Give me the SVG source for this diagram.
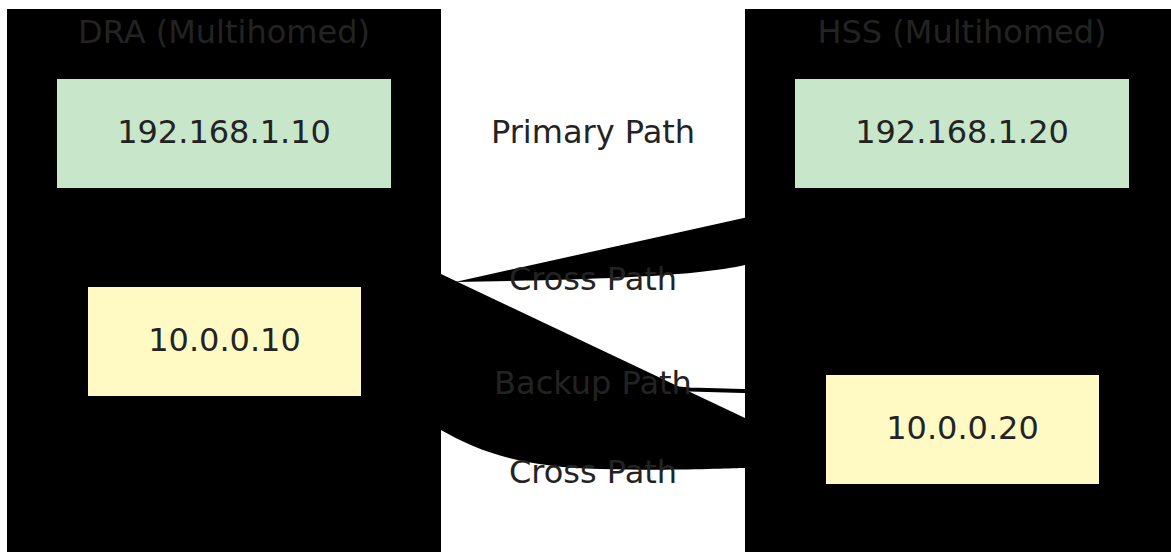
<svg xmlns="http://www.w3.org/2000/svg" width="1171" height="552" viewBox="0 0 1171 552">
<style>
.cluster{fill:#000;stroke:none}
.t{font-family:"DejaVu Sans","Liberation Sans",sans-serif;font-size:32px;fill:#232323;text-anchor:middle}
.edge{fill:#000;stroke:none}
.green{fill:#c8e6c9}
.yellow{fill:#fff9c4}
</style>
<rect width="1171" height="552" fill="#fff"/>
<g id="cluster-DRA">
<rect class="cluster" x="7" y="9" width="434" height="560"/>
<text class="t" x="224" y="43">DRA (Multihomed)</text>
</g>
<g id="cluster-HSS">
<rect class="cluster" x="745" y="9" width="434" height="560"/>
<text class="t" x="962" y="43">HSS (Multihomed)</text>
</g>
<g id="connectors">
<path id="e-primary" class="edge" d="M391,133.5 L795,133.5"/>
<path id="e-cross1" class="edge" d="M361,303 L456,282 C560,280 690,278 745,265 C770,258 785,230 795,206.5 Z"/>
<path id="e-cross2" class="edge" d="M391,250.3 C400,400 420,420 441,430 C480,452 520,467 600,469 C680,471 730,468 745,468 L826,456.4 Z"/>
<path id="e-backup" d="M361,341 C480,345 560,380 690,389.5 L760,391.5 C790,395 810,420 826,429.5" fill="none" stroke="#000" stroke-width="4"/>
</g>
<g id="node-dra1">
<rect class="green" x="57" y="79" width="334" height="109"/>
<text class="t" x="224" y="143">192.168.1.10</text>
</g>
<g id="node-dra2">
<rect class="yellow" x="88" y="287" width="273" height="109"/>
<text class="t" x="224.5" y="351">10.0.0.10</text>
</g>
<g id="node-hss1">
<rect class="green" x="795" y="79" width="334" height="109"/>
<text class="t" x="962" y="143">192.168.1.20</text>
</g>
<g id="node-hss2">
<rect class="yellow" x="826" y="375" width="273" height="109"/>
<text class="t" x="962.5" y="439">10.0.0.20</text>
</g>
<g id="edge-labels">
<text class="t" x="593" y="143">Primary Path</text>
<text class="t" x="593" y="290">Cross Path</text>
<text class="t" x="593" y="394">Backup Path</text>
<text class="t" x="593" y="483">Cross Path</text>
</g>
</svg>
